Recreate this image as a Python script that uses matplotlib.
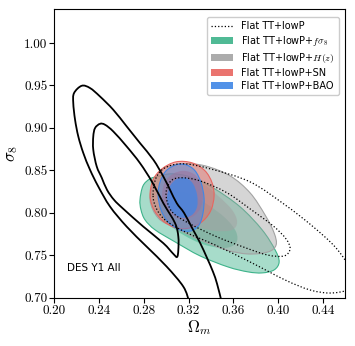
import matplotlib
matplotlib.use("Agg")
import matplotlib.pyplot as plt
import numpy as np
from matplotlib.path import Path
from matplotlib.patches import PathPatch, Patch
from matplotlib.lines import Line2D

plt.rcParams['mathtext.fontset'] = 'cm'
plt.rcParams['axes.formatter.use_mathtext'] = True

# contour outlines: (Omega_m, sigma_8)
des_outer_om = [0.3205, 0.3153, 0.3004, 0.2825, 0.2646, 0.2497, 0.2392, 0.2318, 0.2258, 0.2213,
                0.2184, 0.2168, 0.2175, 0.2244, 0.2318, 0.2407, 0.2526, 0.2646, 0.2765, 0.2885,
                0.2974, 0.3034, 0.3094, 0.3159, 0.3231, 0.3303, 0.3365, 0.3419, 0.3455, 0.3495]
des_outer_s8 = [0.6955, 0.7130, 0.7366, 0.7601, 0.7837, 0.8073, 0.8309, 0.8506, 0.8703, 0.8899,
                0.9096, 0.9292, 0.9410, 0.9496, 0.9469, 0.9370, 0.9213, 0.9017, 0.8821, 0.8624,
                0.8427, 0.8270, 0.8113, 0.7999, 0.7822, 0.7645, 0.7468, 0.7303, 0.7162, 0.6955]

des_inner_om = [0.2407, 0.2363, 0.2347, 0.2347, 0.2378, 0.2423, 0.2470, 0.2533, 0.2616, 0.2795,
                0.2974, 0.3064, 0.3097, 0.3108, 0.3108, 0.3079, 0.2974, 0.2873, 0.2765, 0.2646,
                0.2526, 0.2452]
des_inner_s8 = [0.9048, 0.8998, 0.8899, 0.8742, 0.8545, 0.8412, 0.8270, 0.8152, 0.8046, 0.7837,
                0.7642, 0.7515, 0.7480, 0.7562, 0.7719, 0.7877, 0.8113, 0.8364, 0.8585, 0.8781,
                0.8958, 0.9037]

green_outer_om = [0.2765, 0.2792, 0.2855, 0.2944, 0.3052, 0.3213, 0.3419, 0.3661, 0.3858, 0.3974,
                  0.4010, 0.3965, 0.3858, 0.3732, 0.3553, 0.3303, 0.3079, 0.2900, 0.2810, 0.2774]
green_outer_s8 = [0.8152, 0.8317, 0.8400, 0.8435, 0.8459, 0.8423, 0.8294, 0.8070, 0.7799, 0.7563,
                  0.7421, 0.7327, 0.7292, 0.7304, 0.7362, 0.7492, 0.7657, 0.7799, 0.7917, 0.8035]
green_inner_om = [0.2945, 0.3034, 0.3168, 0.3347, 0.3527, 0.3625, 0.3625, 0.3527, 0.3347, 0.3168,
                  0.3016, 0.2945]
green_inner_s8 = [0.8093, 0.8211, 0.8235, 0.8117, 0.7940, 0.7775, 0.7645, 0.7586, 0.7621, 0.7728,
                  0.7869, 0.7987]

grey_outer_om = [0.2855, 0.2900, 0.2989, 0.3150, 0.3347, 0.3571, 0.3750, 0.3884, 0.3965, 0.3983,
                 0.3911, 0.3732, 0.3535, 0.3303, 0.3079, 0.2927]
grey_outer_s8 = [0.8152, 0.8388, 0.8530, 0.8577, 0.8553, 0.8435, 0.8235, 0.7975, 0.7763, 0.7621,
                 0.7539, 0.7515, 0.7563, 0.7680, 0.7822, 0.7940]
grey_inner_om = [0.2989, 0.3052, 0.3168, 0.3303, 0.3464, 0.3589, 0.3634, 0.3589, 0.3437, 0.3258,
                 0.3106, 0.3016]
grey_inner_s8 = [0.8211, 0.8364, 0.8423, 0.8364, 0.8199, 0.8034, 0.7893, 0.7798, 0.7787, 0.7846,
                 0.7975, 0.8093]

red_outer_om = [0.2855, 0.2882, 0.2962, 0.3088, 0.3231, 0.3347, 0.3410, 0.3428, 0.3401, 0.3329,
                0.3213, 0.3088, 0.2971, 0.2891]
red_outer_s8 = [0.8199, 0.8388, 0.8518, 0.8600, 0.8588, 0.8494, 0.8353, 0.8199, 0.8034, 0.7904,
                0.7822, 0.7822, 0.7904, 0.8034]
red_inner_om = [0.2962, 0.2989, 0.3061, 0.3159, 0.3258, 0.3312, 0.3329, 0.3303, 0.3231, 0.3124,
                0.3034, 0.2980]
red_inner_s8 = [0.8211, 0.8364, 0.8459, 0.8494, 0.8447, 0.8329, 0.8187, 0.8046, 0.7952, 0.7928,
                0.7999, 0.8093]

blue_outer_om = [0.2927, 0.2945, 0.2998, 0.3088, 0.3177, 0.3258, 0.3312, 0.3338, 0.3329, 0.3294,
                 0.3222, 0.3124, 0.3016, 0.2953]
blue_outer_s8 = [0.8211, 0.8364, 0.8494, 0.8565, 0.8565, 0.8494, 0.8353, 0.8176, 0.7999, 0.7857,
                 0.7787, 0.7798, 0.7893, 0.8034]
blue_inner_om = [0.3007, 0.3034, 0.3097, 0.3177, 0.3240, 0.3276, 0.3276, 0.3231, 0.3150, 0.3070,
                 0.3016]
blue_inner_s8 = [0.8187, 0.8317, 0.8400, 0.8412, 0.8341, 0.8211, 0.8070, 0.7975, 0.7940, 0.7987,
                 0.8081]

tt_outer_om = [0.2882, 0.2909, 0.2989, 0.3150, 0.3392, 0.3750, 0.4063, 0.4305, 0.4511, 0.4645,
               0.4699, 0.4627, 0.4466, 0.4287, 0.4063, 0.3750, 0.3437, 0.3168, 0.2989, 0.2909]
tt_outer_s8 = [0.8211, 0.8412, 0.8530, 0.8577, 0.8518, 0.8364, 0.8093, 0.7846, 0.7598, 0.7350,
               0.7173, 0.7091, 0.7055, 0.7091, 0.7209, 0.7421, 0.7621, 0.7775, 0.7916, 0.8058]
tt_inner_om = [0.2998, 0.3034, 0.3124, 0.3303, 0.3544, 0.3750, 0.3956, 0.4072, 0.4108, 0.4054,
               0.3902, 0.3688, 0.3455, 0.3213, 0.3052]
tt_inner_s8 = [0.8211, 0.8364, 0.8412, 0.8376, 0.8235, 0.8046, 0.7846, 0.7692, 0.7574, 0.7492,
               0.7504, 0.7598, 0.7716, 0.7869, 0.8011]

labels = ['Flat TT+lowP', r'Flat TT+lowP+$f\sigma_8$', r'Flat TT+lowP+$H(z)$',
          'Flat TT+lowP+SN', 'Flat TT+lowP+BAO']
colors = ['#3db38a', '#a3a3a3', '#e8655f', '#3f86e6']
inner_alpha = [0.5, 0.55, 0.55, 0.75]


def smooth_path(xs, ys, closed=True):
    # bezier through the read points (catmull-rom style handles)
    p = np.column_stack([xs, ys])
    n = len(p)
    verts = [p[0]]
    codes = [Path.MOVETO]
    last = n if closed else n - 1
    for i in range(last):
        p0 = p[(i - 1) % n] if (closed or i > 0) else p[i]
        p1 = p[i % n]
        p2 = p[(i + 1) % n]
        p3 = p[(i + 2) % n] if (closed or i + 2 < n) else p2
        verts += [p1 + (p2 - p0) / 6, p2 - (p3 - p1) / 6, p2]
        codes += [Path.CURVE4] * 3
    return Path(verts, codes)


fig = plt.figure(figsize=(3.55, 3.46), dpi=100)
ax = fig.add_axes([0.1535, 0.1396, 0.8185, 0.8344])

fills = [(green_outer_om, green_outer_s8, green_inner_om, green_inner_s8),
         (grey_outer_om, grey_outer_s8, grey_inner_om, grey_inner_s8),
         (red_outer_om, red_outer_s8, red_inner_om, red_inner_s8),
         (blue_outer_om, blue_outer_s8, blue_inner_om, blue_inner_s8)]
for (ox, oy, ix, iy), c, a in zip(fills, colors, inner_alpha):
    ax.add_patch(PathPatch(smooth_path(ox, oy), facecolor=c, alpha=0.45, edgecolor='none'))
    ax.add_patch(PathPatch(smooth_path(ox, oy), facecolor='none', edgecolor=c, lw=0.8))
    ax.add_patch(PathPatch(smooth_path(ix, iy), facecolor=c, alpha=a, edgecolor='none'))

for xs, ys in [(tt_outer_om, tt_outer_s8), (tt_inner_om, tt_inner_s8)]:
    ax.add_patch(PathPatch(smooth_path(xs, ys), facecolor='none', edgecolor='k', lw=0.9, ls=':'))

ax.add_patch(PathPatch(smooth_path(des_outer_om, des_outer_s8, closed=False),
                       facecolor='none', edgecolor='k', lw=1.3))
ax.add_patch(PathPatch(smooth_path(des_inner_om, des_inner_s8), facecolor='none',
                       edgecolor='k', lw=1.3))

ax.set_xlim(0.20, 0.46)
ax.set_ylim(0.70, 1.04)
ax.set_xticks([0.20, 0.24, 0.28, 0.32, 0.36, 0.40, 0.44])
ax.set_yticks([0.70, 0.75, 0.80, 0.85, 0.90, 0.95, 1.00])
ax.xaxis.set_major_formatter(matplotlib.ticker.FormatStrFormatter('%.2f'))
ax.yaxis.set_major_formatter(matplotlib.ticker.FormatStrFormatter('%.2f'))
ax.tick_params(labelsize=9.5, length=3.5, width=0.8, pad=1.5)
for lab in ax.get_xticklabels() + ax.get_yticklabels():
    lab.set_fontfamily('cmr10')
ax.set_xlabel(r'$\Omega_m$', fontsize=12, labelpad=1)
ax.set_ylabel(r'$\sigma_8$', fontsize=12, labelpad=3)

ax.text(0.211, 0.735, 'DES Y1 All', fontsize=7.5, va='center', ha='left')

handles = [Line2D([], [], color='k', ls=':', lw=0.9)]
for c in colors:
    handles.append(Patch(facecolor=c, alpha=0.9, edgecolor='none'))
ax.legend(handles, labels, loc='upper right', fontsize=7, frameon=True, fancybox=True,
          handlelength=2.3, handleheight=0.8, labelspacing=0.3, borderpad=0.45,
          bbox_to_anchor=(0.995, 0.99), framealpha=1, edgecolor='#cccccc')

fig.savefig('out.png', dpi=100)
